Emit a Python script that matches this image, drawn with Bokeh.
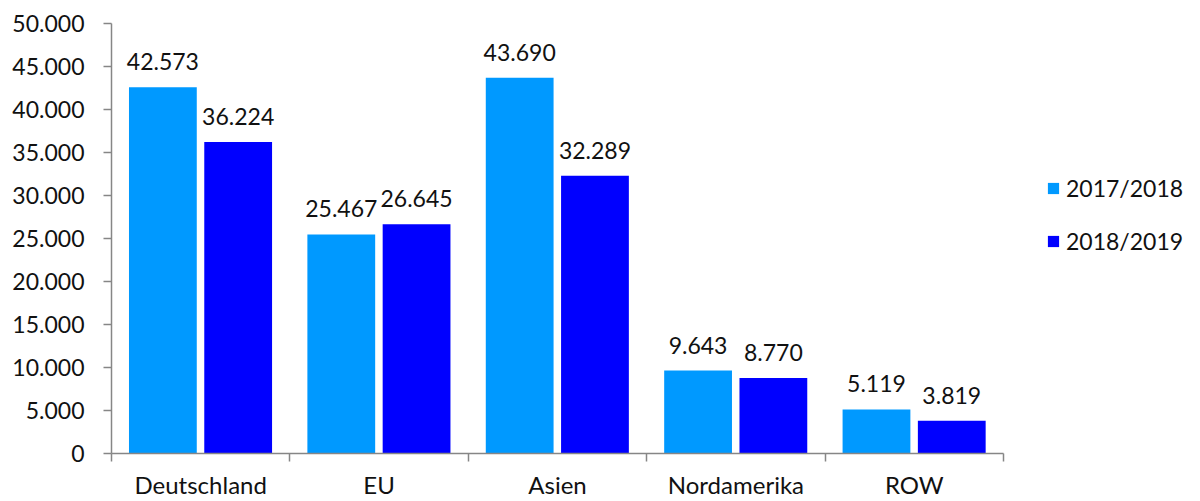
from bokeh.plotting import figure
from bokeh.models import (ColumnDataSource, Range1d, FixedTicker, LabelSet, Legend,
                          LegendItem, CustomJSTickFormatter)
from bokeh.core.properties import value
from bokeh.transform import dodge
from bokeh.embed import file_html
from bokeh.resources import INLINE

categories = ["Deutschland", "EU", "Asien", "Nordamerika", "ROW"]
series_names = ["2017/2018", "2018/2019"]
values_1718 = [42573, 25467, 43690, 9643, 5119]
values_1819 = [36224, 26645, 32289, 8770, 3819]
y_ticks = [0, 5000, 10000, 15000, 20000, 25000, 30000, 35000, 40000, 45000, 50000]

colors = ["#0099FF", "#0000FF"]
FONT = "Lato"
AX = "#868686"
TXT = "#111111"

W, H = 1200, 501
LEFT, TOP, BOTTOM, RIGHT = 111, 23, 45, 5
AXIS_PX = 892  # pixel length of the category axis

n = len(categories)
x_end = n * (W - LEFT - RIGHT) / AXIS_PX


def de(v):
    return f"{v:,}".replace(",", ".")


centers = [i + 0.5 for i in range(n)]
bounds = list(range(n + 1))

src = ColumnDataSource(dict(
    x=centers,
    a=values_1718,
    b=values_1819,
    la=[de(v) for v in values_1718],
    lb=[de(v) for v in values_1819],
))

p = figure(width=W, height=H, output_backend="svg", toolbar_location=None,
           x_range=Range1d(0, x_end), y_range=Range1d(0, 50000),
           min_border_left=LEFT, min_border_right=RIGHT, min_border_top=TOP,
           min_border_bottom=BOTTOM)
p.outline_line_color = None
p.grid.visible = False
p.background_fill_color = "white"
p.border_fill_color = "white"

r1 = p.vbar(x=dodge("x", -0.212), top="a", width=0.38, source=src,
            fill_color=colors[0], line_color=None)
r2 = p.vbar(x=dodge("x", 0.21), top="b", width=0.38, source=src,
            fill_color=colors[1], line_color=None)

for field, lab, off in [("a", "la", -0.212), ("b", "lb", 0.21)]:
    ls = LabelSet(x=dodge("x", off), y=field, text=lab, source=src,
                  text_align="center", text_baseline="bottom", y_offset=17,
                  text_font=value(FONT), text_font_size=value("23px"),
                  text_color=TXT)
    p.add_layout(ls)

# y axis
ya = p.yaxis[0]
ya.ticker = FixedTicker(ticks=y_ticks)
ya.formatter = CustomJSTickFormatter(code="""
return Math.round(tick).toString().replace(/\\B(?=(\\d{3})+(?!\\d))/g, '.');
""")
ya.axis_line_color = AX
ya.axis_line_width = 1.5
ya.major_tick_line_color = AX
ya.major_tick_line_width = 1.5
ya.major_tick_in = 0
ya.major_tick_out = 8
ya.minor_tick_line_color = None
ya.major_label_standoff = 19
ya.major_label_text_font = FONT
ya.major_label_text_font_size = "23px"
ya.major_label_text_color = TXT

# x axis: labels at centers, tick marks at category boundaries
xa = p.xaxis[0]
xa.ticker = FixedTicker(ticks=centers, minor_ticks=bounds)
xa.bounds = (0, n)
xa.major_label_overrides = {c: name for c, name in zip(centers, categories)}
xa.axis_line_color = AX
xa.axis_line_width = 1.5
xa.major_tick_line_color = None
xa.minor_tick_line_color = AX
xa.minor_tick_line_width = 1.5
xa.minor_tick_in = 0
xa.minor_tick_out = 8
xa.major_tick_out = 8
xa.major_tick_in = 0
xa.major_label_standoff = 8
xa.major_label_text_font = FONT
xa.major_label_text_font_size = "24px"
xa.major_label_text_color = TXT

legend = Legend(items=[LegendItem(label=series_names[0], renderers=[r1]),
                       LegendItem(label=series_names[1], renderers=[r2])],
                location=(935, 198), orientation="vertical")
legend.border_line_color = None
legend.background_fill_alpha = 0
legend.padding = 0
legend.margin = 0
legend.spacing = 25
legend.glyph_width = 14
legend.glyph_height = 14
legend.label_height = 27
legend.label_standoff = 6
legend.label_text_font = FONT
legend.label_text_font_size = "23px"
legend.label_text_color = TXT
p.add_layout(legend, "center")

open("out.html", "w").write(file_html(p, INLINE))
